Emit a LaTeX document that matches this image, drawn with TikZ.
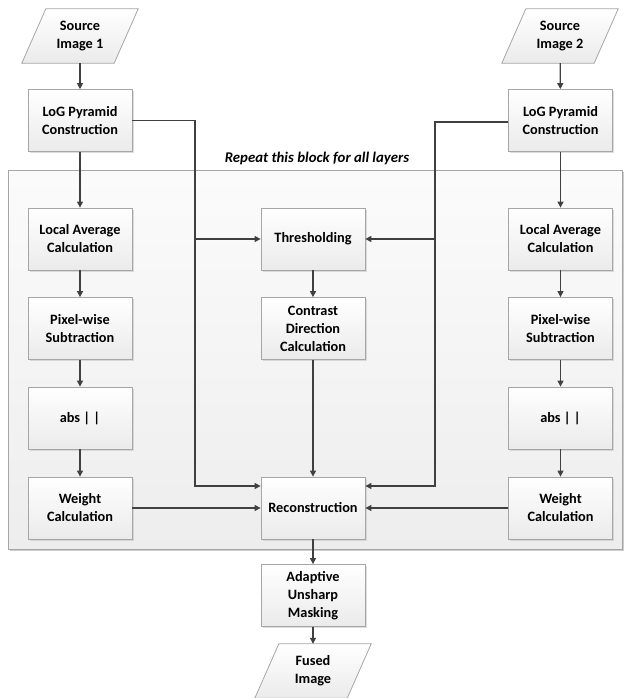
\documentclass[tikz,border=0pt]{standalone}
\usepackage{fontspec}
\setmainfont{Carlito}
\usetikzlibrary{arrows.meta,shadows,calc}
\begin{document}
\begin{tikzpicture}[x=1pt,y=-1pt,
  box/.style={draw=gray!70, line width=0.8pt, top color=white, bottom color=gray!16,
    minimum width=104pt, minimum height=62pt, align=center, inner sep=2pt,
    font=\fontsize{14.3}{18}\selectfont\bfseries,
    drop shadow={shadow xshift=1.5pt, shadow yshift=-1.5pt, fill=gray!45, opacity=0.6}},
  iotext/.style={minimum width=92pt, minimum height=54pt, align=center, inner sep=0pt,
    font=\fontsize{14.3}{18}\selectfont\bfseries},
  para/.style={draw=gray!70, line width=0.8pt, top color=white, bottom color=gray!16},
  conn/.style={draw=black!75, line width=1.2pt, -{Triangle[length=6pt,width=6pt]}},
  line/.style={draw=black!75, line width=1.2pt}
]
\useasboundingbox (0,0) rectangle (624,698);
% repeat block
\fill[gray!40] (10,172) rectangle (624,551);
\shade[top color=gray!3, bottom color=gray!14, draw=gray!70, line width=0.8pt] (8,170) rectangle (622,549);
\node[font=\fontsize{14.8}{16}\selectfont\bfseries\itshape] (lbl) at (317,158) {Repeat this block for all layers};

% input / output parallelograms
\node[iotext] (src1) at (80,36) {};
\node[iotext] (src2) at (560,36) {};
\node[iotext] (fused) at (313,671) {};
\foreach \n in {src1,src2,fused}{
  \shade[para] ($(\n.south west)+(-12,0)$) -- ($(\n.north west)+(12,0)$) -- ($(\n.north east)+(12,0)$) -- ($(\n.south east)+(-12,0)$) -- cycle;
}
\node[iotext] at (src1) {Source\\Image 1};
\node[iotext] at (src2) {Source\\Image 2};
\node[iotext] at (fused) {Fused\\Image};

% left column
\node[box] (log1) at (80,120.5) {LoG Pyramid\\Construction};
\node[box] (la1) at (80,239) {Local Average\\Calculation};
\node[box] (px1) at (80,328.5) {Pixel-wise\\Subtraction};
\node[box] (abs1) at (80,418) {abs | |};
\node[box] (w1) at (80,508) {Weight\\Calculation};
% right column
\node[box] (log2) at (560.5,120.5) {LoG Pyramid\\Construction};
\node[box] (la2) at (560.5,239) {Local Average\\Calculation};
\node[box] (px2) at (560.5,328.5) {Pixel-wise\\Subtraction};
\node[box] (abs2) at (560.5,418) {abs | |};
\node[box] (w2) at (560.5,508) {Weight\\Calculation};
% middle column
\node[box] (th) at (313,239) {Thresholding};
\node[box] (cd) at (313,328.5) {Contrast\\Direction\\Calculation};
\node[box] (rec) at (313,508) {Reconstruction};
\node[box] (aum) at (313,595.5) {Adaptive\\Unsharp\\Masking};

% junction coordinates
\coordinate (jl) at (195,120.5);
\coordinate (jr) at (435,122);
\coordinate (rl) at ($(rec.west)+(0,-22)$);
\coordinate (rr) at ($(rec.east)+(0,-22)$);

% connectors
\draw[conn] (src1) -- (log1);
\draw[conn] (src2) -- (log2);
\draw[conn] (log1) -- (la1);
\draw[conn] (log2) -- (la2);
\draw[conn] (la1) -- (px1);
\draw[conn] (px1) -- (abs1);
\draw[conn] (abs1) -- (w1);
\draw[conn] (la2) -- (px2);
\draw[conn] (px2) -- (abs2);
\draw[conn] (abs2) -- (w2);
\draw[conn] (th) -- (cd);
\draw[conn] (cd) -- (rec);
\draw[conn] (rec) -- (aum);
\draw[conn] (aum) -- (fused);
\draw[conn] (w1) -- (rec);
\draw[conn] (w2) -- (rec);
\draw[conn] (log1.east) -- (jl) |- (rl);
\draw[conn] (log2.west |- jr) -- (jr) |- (rr);
\draw[conn] (jl |- th.west) -- (th.west);
\draw[conn] (jr |- th.east) -- (th.east);
\end{tikzpicture}
\end{document}
